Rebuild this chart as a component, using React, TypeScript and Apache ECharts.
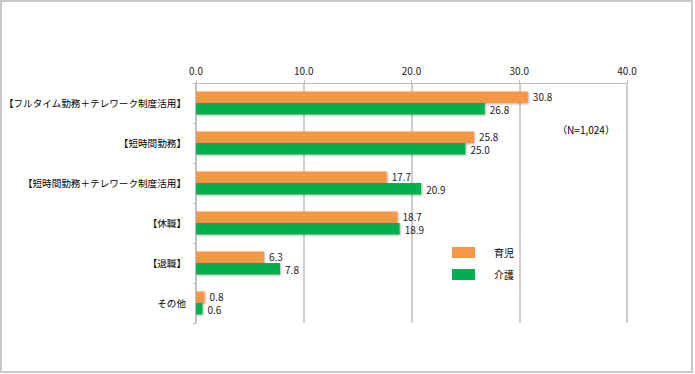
import React, { useEffect, useRef } from "react";
import * as echarts from "echarts";

const categories = [
  "【フルタイム勤務＋テレワーク制度活用】",
  "【短時間勤務】",
  "【短時間勤務＋テレワーク制度活用】",
  "【休職】",
  "【退職】",
  "その他",
];
const childcare = [30.8, 25.8, 17.7, 18.7, 6.3, 0.8];
const nursing = [26.8, 25.0, 20.9, 18.9, 7.8, 0.6];
const seriesNames = ["育児", "介護"];
const noteText = "（N=1,024）";

const FONT = '"Noto Sans CJK JP", "Noto Sans", sans-serif';

export default function App() {
  const ref = useRef<HTMLDivElement>(null);
  useEffect(() => {
    if (!ref.current) return;
    const chart = echarts.init(ref.current, null, { renderer: "svg" });
    const labelCfg = (dy: number) => ({
      show: true,
      position: "right",
      distance: 5,
      offset: [0, dy],
      fontSize: 10,
      lineHeight: 10,
      color: "#222",
      fontFamily: FONT,
      formatter: (p: any) => Number(p.value).toFixed(1),
    });
    const shadow = {
      shadowColor: "rgba(0,0,0,0.3)",
      shadowBlur: 2,
      shadowOffsetX: 1,
      shadowOffsetY: 1,
    };
    chart.setOption({
      animation: false,
      textStyle: { fontFamily: FONT },
      grid: {
        left: 196,
        right: 68,
        top: 83,
        bottom: 51,
        containLabel: false,
        outerBoundsMode: "none",
      },
      xAxis: {
        type: "value",
        position: "top",
        min: 0,
        max: 40,
        interval: 10,
        axisLine: { show: true, lineStyle: { color: "#BEBEBE", width: 1 } },
        axisTick: { show: true, length: 3, lineStyle: { color: "#BEBEBE" } },
        axisLabel: {
          fontSize: 10,
          color: "#222",
          margin: 8,
          formatter: (v: number) => v.toFixed(1),
        },
        splitLine: { show: true, lineStyle: { color: "#BEBEBE", width: 1.5 } },
      },
      yAxis: {
        type: "category",
        data: categories,
        inverse: true,
        axisLine: { show: true, lineStyle: { color: "#BEBEBE", width: 1.5 } },
        axisTick: { show: true, length: 3, lineStyle: { color: "#BEBEBE" } },
        axisLabel: { fontSize: 9.6, color: "#000", margin: 10, fontWeight: "normal" },
      },
      legend: {
        orient: "vertical",
        left: 447,
        top: 242,
        itemWidth: 23,
        itemHeight: 11,
        itemGap: 11,
        icon: "rect",
        textStyle: { fontSize: 10, color: "#000", padding: [0, 0, 0, 14] },
        data: seriesNames,
      },
      graphic: [
        {
          type: "rect",
          shape: { x: 1, y: 1, width: 691, height: 371 },
          style: { fill: "none", stroke: "#C8C8C8", lineWidth: 2 },
          silent: true,
        },
        {
          type: "text",
          x: 586,
          y: 129,
          style: {
            text: noteText,
            fontSize: 10,
            fill: "#000",
            fontFamily: FONT,
            textAlign: "center",
            textVerticalAlign: "middle",
          },
        },
      ],
      series: [
        {
          name: seriesNames[0],
          type: "bar",
          data: childcare,
          barWidth: 11.5,
          barGap: "0%",
          itemStyle: { color: "#F79646", ...shadow },
          label: labelCfg(-1),
        },
        {
          name: seriesNames[1],
          type: "bar",
          data: nursing,
          barWidth: 11.5,
          barGap: "0%",
          itemStyle: { color: "#00B050", ...shadow },
          label: labelCfg(1),
        },
      ],
    });
    return () => chart.dispose();
  }, []);
  return (
    <div
      ref={ref}
      style={{ position: "fixed", left: 0, top: 0, width: 695, height: 374, background: "#fff" }}
    />
  );
}
